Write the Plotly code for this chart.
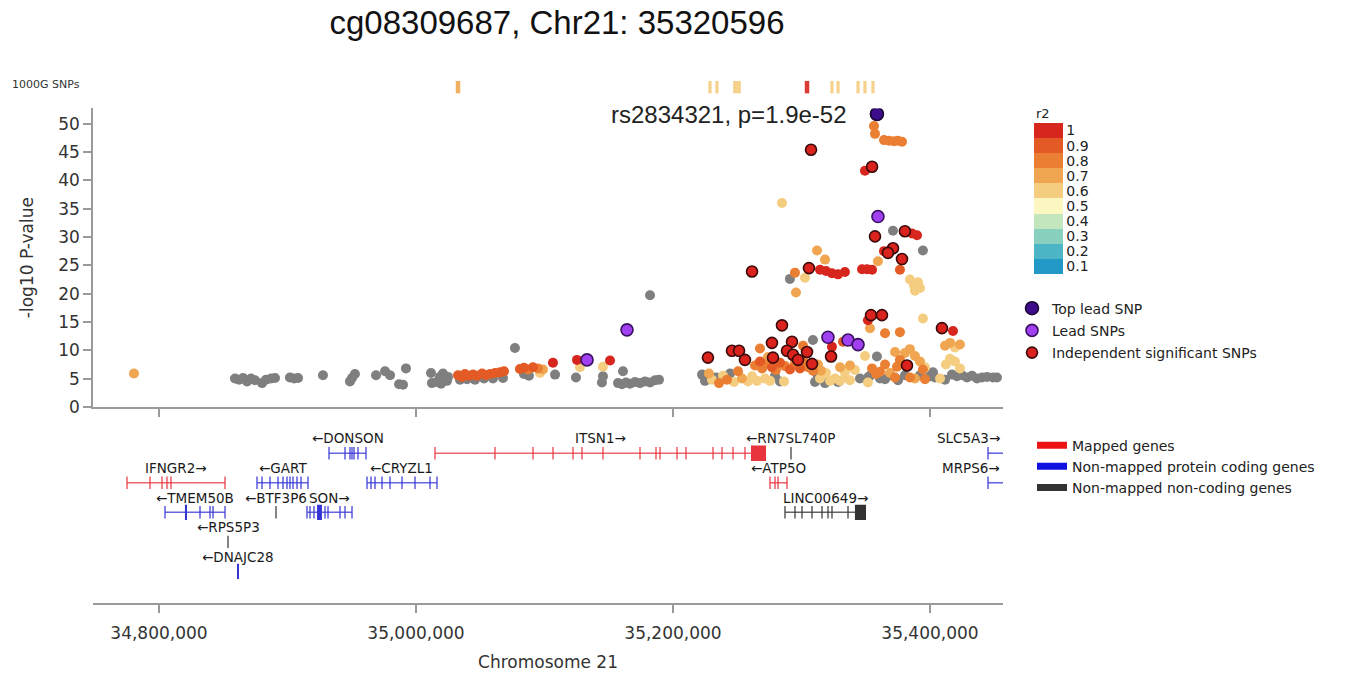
import plotly.graph_objects as go

# ---------------- data ----------------
X_MIN, X_MAX = 34_748_640, 35_456_810
X_TICKS = [34_800_000, 35_000_000, 35_200_000, 35_400_000]
X_TICK_TEXT = ["34,800,000", "35,000,000", "35,200,000", "35,400,000"]
Y_TICKS = [0, 5, 10, 15, 20, 25, 30, 35, 40, 45, 50]

# SNPs without LD information (grey)
gray_pos = [34859100, 34862300, 34865400, 34868500, 34871600, 34874700, 34880200, 34883300, 34887200, 34890300,
            34901900, 34905100, 34908200, 34927600, 34948600, 34950200, 34952500, 34968900, 34975900, 34979800,
            34986800, 34989900, 34992200, 35011700, 35012400, 35016300, 35018700, 35019500, 35021000, 35024100, 35024900,
            35034200, 35039700, 35045900, 35052900, 35059900, 35067700, 35077000, 35084000, 35087900, 35108200,
            35124500, 35144700, 35145500, 35157200, 35160300, 35161100, 35163400, 35166500, 35170400, 35174300,
            35178200, 35182100, 35186000, 35189100, 35182100,
            35222600, 35224900, 35233500, 35244400, 35279400, 35283300, 35310500, 35318300, 35328400, 35345500,
            35353300, 35351700,
            35361100, 35365000, 35368900, 35375100, 35380500, 35392200, 35400000, 35402300, 35403900, 35411700,
            35417100, 35421000, 35424900, 35428800, 35432700, 35436600, 35440500, 35444400, 35449000, 35452100,
            35308900, 35358700, 35371200, 35394500, 35291000, 35312100]
gray_logp = [5.0, 4.8, 5.1, 4.5, 5.0, 4.7, 4.2, 4.8, 5.0, 5.1,
             5.2, 5.0, 5.1, 5.6, 4.5, 5.1, 5.8, 5.6, 6.3, 5.6,
             4.0, 3.9, 6.8, 6.0, 4.2, 4.4, 5.3, 4.1, 5.9, 4.6, 5.3,
             4.8, 4.9, 4.8, 5.0, 5.0, 5.1, 10.4, 5.8, 5.5, 5.7,
             5.2, 4.3, 5.4, 4.2, 4.0, 6.3, 4.3, 4.1, 4.4, 4.2,
             4.5, 4.3, 4.7, 4.8, 19.7,
             5.7, 4.6, 5.2, 5.9, 5.5, 4.5, 4.4, 4.2, 4.4, 5.0,
             5.5, 5.2,
             5.0, 4.9, 5.6, 4.7, 5.6, 5.6, 5.4, 6.1, 5.2, 4.8,
             5.7, 5.4, 5.6, 5.2, 5.5, 5.0, 5.2, 5.3, 5.2, 5.2,
             11.8, 8.9, 31.1, 27.6, 22.6, 5.8]

# SNPs in LD with the lead SNPs (coloured by r2)
ld_pos = [34780500, 35032700, 35035800, 35038100, 35041200, 35044400, 35047500, 35051400, 35054500, 35057600,
          35061500, 35065400, 35068500, 35080900, 35084000, 35087200, 35091000, 35094900, 35098800, 35096500,
          35106600, 35125300, 35127600, 35145500, 35151000,
          35228000, 35230300, 35235800, 35238900, 35242000, 35247500, 35250600, 35253700, 35258400, 35261500,
          35265400, 35269300, 35271600, 35275500, 35286400,
          35263800, 35267700, 35271600, 35273900, 35277000, 35280100, 35283300, 35287200, 35291000, 35294900,
          35298800, 35301200, 35305100, 35308900, 35312800,
          35314400, 35322200, 35326100, 35330000, 35333800, 35337700, 35351700, 35372800, 35384400, 35388300,
          35396100, 35407800,
          35315200, 35319100, 35330000, 35333800, 35337700, 35341600, 35349400, 35354900, 35358000, 35361100,
          35365000, 35368900, 35372800, 35376600, 35380500, 35384400, 35388300, 35392200, 35396100, 35374300,
          35394500, 35411700, 35415600, 35419400, 35423300, 35415600, 35419400, 35423300, 35412400,
          35356400, 35357200, 35364200, 35368100, 35372000, 35375100, 35378200, 35349400, 35284800, 35386000,
          35389900, 35312100, 35318300, 35364200, 35359500, 35314400, 35319100, 35323700, 35328400, 35333800,
          35347100, 35351000, 35354900, 35294900, 35302700, 35295700, 35376600, 35384400, 35387500, 35390700,
          35392200, 35388300, 35394500, 35351700, 35353300, 35417900, 35365000, 35376600, 35323700, 35332300,
          35301200, 35267700]
ld_logp = [5.9, 5.6, 5.3, 5.8, 5.5, 5.7, 5.5, 5.9, 5.6, 5.8,
           6.0, 6.1, 6.3, 6.7, 6.9, 6.6, 7.0, 6.8, 6.6, 6.0,
           7.8, 8.3, 7.0, 7.1, 8.2,
           5.9, 4.8, 4.2, 5.5, 4.8, 4.4, 6.3, 5.0, 4.5, 5.4,
           4.6, 6.8, 5.0, 4.6, 4.5,
           7.3, 8.0, 7.5, 8.8, 7.0, 6.5, 7.8, 7.2, 6.6, 7.6,
           6.8, 8.2, 7.0, 6.4, 7.5,
           5.0, 4.6, 5.0, 4.6, 5.2, 4.7, 4.3, 5.2, 5.2, 5.0,
           4.9, 5.0,
           6.4, 6.0, 7.0, 6.2, 7.3, 6.5, 9.0, 6.8, 5.8, 6.2,
           7.5, 6.0, 9.7, 8.3, 9.5, 10.2, 9.0, 8.0, 7.0, 7.1,
           6.6, 10.8, 11.3, 10.5, 11.0, 8.5, 8.0, 6.8, 7.5,
           49.6, 48.2, 47.1, 47.0, 46.9, 47.0, 46.8, 41.7, 36.0, 30.6,
           30.3, 27.6, 26.0, 27.5, 25.7, 24.2, 24.0, 23.6, 23.4, 23.8,
           24.3, 24.3, 24.2, 23.7, 22.8, 20.2, 24.2, 22.5, 21.5, 22.0,
           21.0, 20.5, 15.6, 15.3, 13.9, 13.4, 13.0, 13.2, 10.6, 11.5,
           10.8, 10.3]
ld_r2 = [0.7, 0.9, 0.9, 0.9, 0.9, 0.9, 0.9, 0.9, 0.9, 0.9,
         0.9, 0.9, 0.9, 0.9, 0.9, 0.8, 0.9, 0.8, 0.7, 0.6,
         1.0, 1.0, 0.6, 0.6, 1.0,
         0.7, 0.6, 0.8, 0.6, 0.8, 0.6, 0.8, 0.7, 0.6, 0.6,
         0.6, 0.8, 0.6, 0.6, 0.6,
         0.8, 0.9, 0.8, 0.7, 0.9, 0.8, 0.9, 0.8, 0.9, 0.8,
         0.9, 0.8, 0.8, 0.8, 0.7,
         0.6, 0.6, 0.6, 0.6, 0.6, 0.6, 0.6, 0.8, 0.8, 0.7,
         0.8, 0.6,
         0.7, 0.6, 0.7, 0.6, 0.7, 0.6, 0.6, 0.8, 0.8, 0.8,
         0.8, 0.7, 0.7, 0.8, 0.7, 0.7, 0.7, 0.7, 0.6, 0.8,
         0.8, 0.7, 0.7, 0.6, 0.7, 0.6, 0.6, 0.6, 0.6,
         0.8, 0.8, 0.8, 0.8, 0.8, 0.8, 0.8, 1.0, 0.6, 1.0,
         1.0, 0.7, 0.7, 1.0, 0.7, 1.0, 1.0, 1.0, 1.0, 1.0,
         1.0, 1.0, 1.0, 0.8, 0.6, 0.7, 0.9, 0.6, 0.6, 0.6,
         0.6, 0.6, 0.6, 1.0, 0.7, 1.0, 0.8, 0.8, 1.0, 0.9,
         0.8, 0.8]

indep_pos = [35307400, 35354900, 35357200, 35380500, 35371200, 35367300, 35378200, 35261500, 35305800, 35354100,
             35362600, 35284800, 35409300, 35277000, 35292600, 35227200, 35245900, 35251400, 35256000, 35277800,
             35288700, 35293400, 35297300, 35304300, 35308200, 35323000, 35382100]
indep_logp = [45.4, 42.4, 30.1, 31.0, 28.0, 27.2, 26.1, 23.9, 24.5, 16.2,
              16.2, 14.4, 13.9, 11.3, 11.5, 8.7, 9.9, 9.9, 8.3, 8.7,
              9.9, 9.2, 8.3, 9.7, 7.6, 8.9, 7.3]

lead_pos = [35133100, 35164200, 35359500, 35320600, 35336200, 35344000]
lead_logp = [8.3, 13.6, 33.6, 12.3, 11.8, 11.0]

top_pos = [35358700]
top_logp = [51.7]
top_label = "rs2834321, p=1.9e-52"

# 1000 Genomes SNP track
kg_pos = [35032700, 35228800, 35234200, 35249800, 35304300, 35323700, 35328400, 35344000, 35349400, 35355600]
kg_r2 = [0.7, 0.6, 0.6, 0.6, 1.0, 0.6, 0.6, 0.6, 0.6, 0.6]
kg_width = [3500, 2500, 2500, 6000, 3500, 2500, 2500, 2500, 2500, 2500]

# genes
gene_names = ["IFNGR2", "TMEM50B", "RPS5P3", "DNAJC28", "GART", "BTF3P6", "SON", "DONSON", "CRYZL1",
              "ITSN1", "RN7SL740P", "ATP5O", "LINC00649", "SLC5A3", "MRPS6"]
gene_start = [34775100, 34804700, 34853700, 34861000, 34876300, 34891000, 34915200, 34932300, 34961900,
              35014800, 35291800, 35275500, 35287200, 35445100, 35445100]
gene_end = [34851400, 34851400, 34853700, 34862000, 34916000, 34891000, 34950200, 34961100, 35016300,
            35272400, 35291800, 35288700, 35350200, 35457600, 35457600]
gene_row = [1, 2, 3, 4, 1, 2, 2, 0, 1, 0, 0, 1, 2, 0, 1]
gene_kind = ["mapped", "coding", "noncoding", "coding", "coding", "noncoding", "coding", "coding", "coding",
             "mapped", "noncoding", "mapped", "noncoding", "coding", "coding"]
gene_strand = ["+", "-", "-", "-", "-", "-", "+", "-", "-", "+", "-", "-", "+", "+", "+"]
gene_label_anchor = ["center"] * 13 + ["right", "right"]
gene_exons = [
    [[34775100, 34775100], [34793000, 34793000], [34802300, 34802300], [34806200, 34807000], [34809300, 34809300], [34851400, 34851400]],
    [[34804700, 34804700], [34820200, 34821800], [34831900, 34831900], [34839700, 34839700], [34842000, 34842000], [34851400, 34851400]],
    [[34853400, 34854000]],
    [[34860900, 34862100]],
    [[34876300, 34876300], [34880200, 34880200], [34886400, 34886400], [34892600, 34892600], [34896500, 34896500],
     [34899600, 34899600], [34901900, 34901900], [34904300, 34904300], [34907400, 34907400], [34910500, 34910500], [34916000, 34916000]],
    [[34890700, 34891300]],
    [[34915200, 34915200], [34917500, 34917500], [34920600, 34920600], [34923000, 34926800], [34929200, 34929200],
     [34931500, 34931500], [34940900, 34940900], [34944700, 34944700], [34950200, 34950200]],
    [[34932300, 34932300], [34944700, 34944700], [34948600, 34948600], [34950200, 34950200], [34951700, 34951700],
     [34954900, 34954900], [34961100, 34961100]],
    [[34961900, 34961900], [34965000, 34965000], [34968100, 34968100], [34973500, 34973500], [34979800, 34979800],
     [34989100, 34989100], [34999200, 34999200], [35010900, 35010900], [35016300, 35016300]],
    [[35014800, 35014800], [35061500, 35061500], [35091000, 35091000], [35106600, 35106600], [35122200, 35122200],
     [35129200, 35129200], [35145500, 35145500], [35174300, 35174300], [35186800, 35186800], [35189900, 35189900],
     [35203100, 35203100], [35210100, 35210100], [35231100, 35231100], [35238100, 35238100], [35246700, 35246700],
     [35256000, 35256000], [35260700, 35272400]],
    [[35291500, 35292100]],
    [[35275500, 35275500], [35279400, 35279400], [35281700, 35281700], [35288700, 35288700]],
    [[35287200, 35287200], [35294900, 35294900], [35300400, 35300400], [35308200, 35308200], [35316000, 35316000],
     [35320600, 35320600], [35323700, 35323700], [35336200, 35336200], [35341600, 35350200]],
    [[35445100, 35445100]],
    [[35445100, 35445100]],
]

R2_TICKS = [0.1, 0.2, 0.3, 0.4, 0.5, 0.6, 0.7, 0.8, 0.9, 1.0]
R2_TEXT = ["0.1", "0.2", "0.3", "0.4", "0.5", "0.6", "0.7", "0.8", "0.9", "1"]
R2_COLORS = ["#2399c8", "#4cb5c6", "#8ad0be", "#c3e6be", "#fcf7c0", "#f5cd80", "#f0a650", "#ea7e32", "#e35a24", "#d6261d"]

KIND_COLOR = {"mapped": "#e8343c", "coding": "#3434d6", "noncoding": "#333333"}
KIND_LEGEND = [("mapped", "Mapped genes", "#ee1111"),
               ("coding", "Non-mapped protein coding genes", "#1010e0"),
               ("noncoding", "Non-mapped non-coding genes", "#333333")]

FONT = "DejaVu Sans"
TXT = "#333333"

# ---------------- figure ----------------
W, H = 1345, 677
def px_x(p):
    return p / W
def px_y(p):
    return 1 - p / H

x_dom = [px_x(93), px_x(1003)]

colorscale = []
n = len(R2_COLORS)
for i, c in enumerate(R2_COLORS):
    colorscale.append([i / n, c])
    colorscale.append([(i + 1) / n, c])

fig = go.Figure()

# 1000G track
fig.add_trace(go.Bar(
    x=kg_pos, y=[1] * len(kg_pos), width=kg_width, xaxis="x2", yaxis="y2",
    marker=dict(color=kg_r2, colorscale=colorscale, cmin=0.05, cmax=1.05, line=dict(width=0)),
    opacity=0.9, showlegend=False, hoverinfo="skip"))

# grey SNPs
fig.add_trace(go.Scatter(
    x=gray_pos, y=gray_logp, mode="markers", xaxis="x", yaxis="y",
    marker=dict(size=10, color="#7f7f7f", line=dict(width=0)),
    showlegend=False))

# LD SNPs (drawn low r2 first)
order = sorted(range(len(ld_pos)), key=lambda i: ld_r2[i])
fig.add_trace(go.Scatter(
    x=[ld_pos[i] for i in order], y=[ld_logp[i] for i in order], mode="markers",
    xaxis="x", yaxis="y",
    marker=dict(size=10, color=[ld_r2[i] for i in order], colorscale=colorscale, cmin=0.05, cmax=1.05,
                line=dict(width=0),
                colorbar=dict(x=px_x(1034), xanchor="left", xpad=0, y=px_y(201.5), yanchor="middle", ypad=0,
                              len=151, lenmode="pixels", thickness=29, outlinewidth=0,
                              tickvals=R2_TICKS, ticktext=R2_TEXT, ticks="",
                              tickfont=dict(family=FONT, size=14, color="#222"))),
    showlegend=False))

fig.add_trace(go.Scatter(
    x=indep_pos, y=indep_logp, mode="markers", xaxis="x", yaxis="y", name="Independent significant SNPs",
    marker=dict(size=11, color="#d9231c", line=dict(width=1.6, color="#3a0a0a")),
    legend="legend", legendgroup="c", legendrank=3))
fig.add_trace(go.Scatter(
    x=lead_pos, y=lead_logp, mode="markers", xaxis="x", yaxis="y", name="Lead SNPs",
    marker=dict(size=12, color="#a040f0", line=dict(width=1.6, color="#3a1060")),
    legend="legend", legendgroup="b", legendrank=2))
fig.add_trace(go.Scatter(
    x=top_pos, y=top_logp, mode="markers", xaxis="x", yaxis="y", name="Top lead SNP",
    marker=dict(size=13, color="#3c0c8c", line=dict(width=1.6, color="#1a0630")),
    legend="legend", legendgroup="a", legendrank=1))

# genes: bodies
for kind, _, _ in KIND_LEGEND:
    xs, ys = [], []
    for i in range(len(gene_names)):
        if gene_kind[i] == kind and gene_end[i] > gene_start[i]:
            xs += [gene_start[i], gene_end[i], None]
            ys += [gene_row[i], gene_row[i], None]
    fig.add_trace(go.Scatter(x=xs, y=ys, mode="lines", xaxis="x3", yaxis="y3",
                             line=dict(color=KIND_COLOR[kind], width=1.6), opacity=0.75,
                             showlegend=False, hoverinfo="skip"))
# genes: exons (thin ticks semi-transparent, wide blocks solid)
for kind, _, _ in KIND_LEGEND:
    cx, wd, bs, op = [], [], [], []
    for i in range(len(gene_names)):
        if gene_kind[i] != kind:
            continue
        for s, e in gene_exons[i]:
            cx.append((s + e) / 2)
            wd.append(max(e - s, 1000))
            wide = (e - s) >= 1100
            bs.append(gene_row[i] - (0.26 if wide else 0.21))
            op.append(1.0 if wide else 0.6)
    hts = [(-2 * (b - gene_row_val)) for b, gene_row_val in zip(bs, [b + 0 for b in bs])]
    fig.add_trace(go.Bar(x=cx, y=[0.52 if o == 1.0 else 0.42 for o in op], base=bs, width=wd,
                         xaxis="x3", yaxis="y3",
                         marker=dict(color=KIND_COLOR[kind], opacity=op, line=dict(width=0)),
                         showlegend=False, hoverinfo="skip"))
# gene legend
for kind, label, col in KIND_LEGEND:
    fig.add_trace(go.Scatter(x=[None], y=[None], mode="lines", xaxis="x3", yaxis="y3", name=label,
                             line=dict(color=col, width=7), legend="legend2"))

annotations = []
for i, g in enumerate(gene_names):
    label = ("\u2190" + g) if gene_strand[i] == "-" else (g + "\u2192")
    if gene_label_anchor[i] == "right":
        lx, xa = min(gene_end[i], X_MAX - 1000), "right"
    else:
        lx, xa = (gene_start[i] + gene_end[i]) / 2, "center"
    annotations.append(dict(x=lx, y=gene_row[i] - 0.5, xref="x3", yref="y3", text=label, showarrow=False,
                            xanchor=xa, yanchor="middle", font=dict(family=FONT, size=13.5, color="#1a1a1a")))

annotations.append(dict(x=top_pos[0], y=top_logp[0], xref="x", yref="y", text=top_label, showarrow=False,
                        xanchor="right", yanchor="middle", xshift=-28,
                        font=dict(family="Liberation Sans, Arial", size=24, color="#222")))
annotations.append(dict(x=px_x(10), y=px_y(86), xref="paper", yref="paper", text="1000G SNPs", showarrow=False,
                        xanchor="left", yanchor="middle", font=dict(family=FONT, size=11, color=TXT)))
annotations.append(dict(x=px_x(1034), y=px_y(115), xref="paper", yref="paper", text="r2", showarrow=False,
                        xanchor="left", yanchor="middle", font=dict(family=FONT, size=13, color="#222")))

axis_common = dict(showgrid=False, zeroline=False, showline=True, linecolor="#9a9a9a", linewidth=1.5,
                   ticks="outside", ticklen=8, tickcolor="#9a9a9a", tickwidth=1.5)

fig.update_layout(
    width=W, height=H, margin=dict(l=0, r=0, t=0, b=0),
    paper_bgcolor="white", plot_bgcolor="white", barmode="overlay",
    title=dict(text="cg08309687, Chr21: 35320596", x=px_x(557), xanchor="center", y=px_y(22), yanchor="middle",
               font=dict(family="Liberation Sans, Arial", size=33, color="#111")),
    xaxis=dict(domain=x_dom, range=[X_MIN, X_MAX], anchor="y", tickvals=X_TICKS, showticklabels=False,
               **axis_common),
    yaxis=dict(domain=[px_y(413), px_y(110)], range=[0, 52.7], anchor="x", tickvals=Y_TICKS,
               tickfont=dict(family=FONT, size=17, color=TXT),
               title=dict(text="-log10 P-value", font=dict(family=FONT, size=17, color=TXT), standoff=20),
               **axis_common),
    xaxis2=dict(domain=x_dom, range=[X_MIN, X_MAX], anchor="y2", visible=False),
    yaxis2=dict(domain=[px_y(95), px_y(82)], range=[0, 1], anchor="x2", visible=False),
    xaxis3=dict(domain=x_dom, range=[X_MIN, X_MAX], anchor="y3", tickvals=X_TICKS, ticktext=X_TICK_TEXT,
                tickfont=dict(family=FONT, size=17, color=TXT), ticklabelstandoff=6,
                title=dict(text="Chromosome 21", font=dict(family=FONT, size=17, color=TXT), standoff=14),
                **axis_common),
    yaxis3=dict(domain=[px_y(612), px_y(430)], range=[5.0667, -1], anchor="x3", visible=False),
    legend=dict(x=px_x(1012), y=px_y(297), xanchor="left", yanchor="top", bgcolor="rgba(0,0,0,0)",
                font=dict(family=FONT, size=14, color="#222"), traceorder="grouped", tracegroupgap=1),
    legend2=dict(x=px_x(1032), y=px_y(436), xanchor="left", yanchor="top", bgcolor="rgba(0,0,0,0)",
                 font=dict(family=FONT, size=14, color="#222")),
    annotations=annotations,
)

fig.write_html("out.html")
